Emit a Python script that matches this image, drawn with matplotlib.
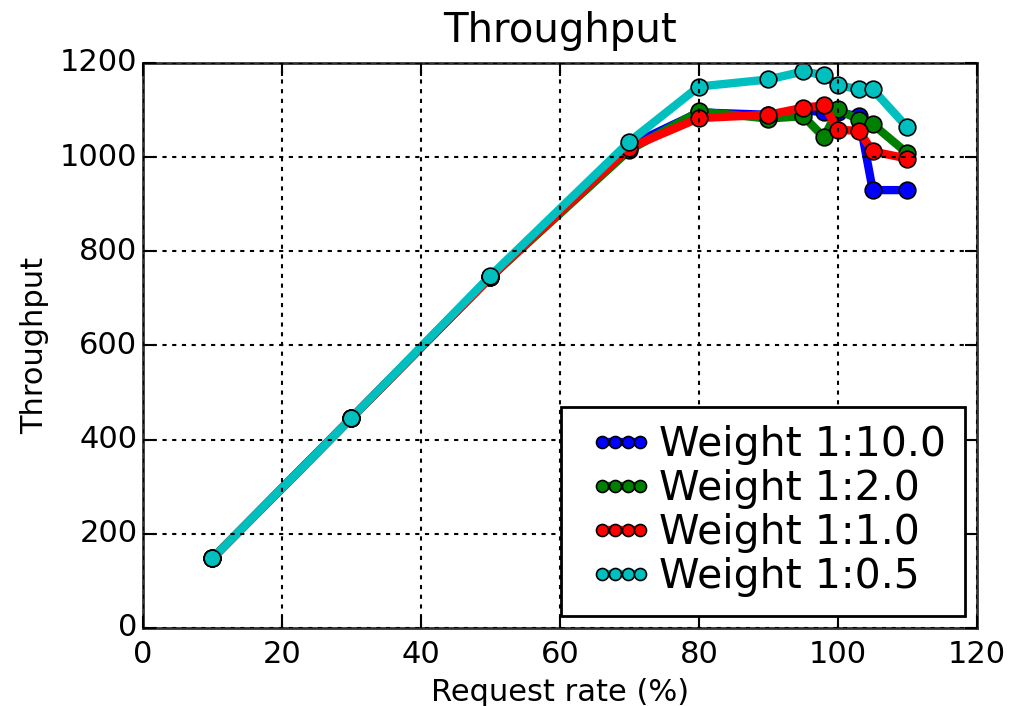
import numpy as np
import matplotlib
matplotlib.use('Agg')
import matplotlib.pyplot as plt
from matplotlib.legend_handler import HandlerLine2D

plt.style.use('classic')

# request rate (%) and throughput per weight
rate = [10, 30, 50, 70, 80, 90, 95, 98, 100, 103, 105, 110]
w10 = [148, 446, 745, 1025, 1095, 1090, 1100, 1095, 1095, 1087, 930, 930]
w2 = [148, 446, 745, 1015, 1097, 1082, 1087, 1042, 1102, 1079, 1070, 1008]
w1 = [148, 446, 745, 1020, 1083, 1090, 1105, 1110, 1058, 1056, 1012, 997]
w05 = [148, 446, 748, 1033, 1150, 1165, 1182, 1174, 1153, 1144, 1144, 1063]

labels = ['Weight 1:10.0', 'Weight 1:2.0', 'Weight 1:1.0', 'Weight 1:0.5']
colors = ['b', 'g', 'r', 'c']

fig = plt.figure(figsize=(10.16, 7.06), dpi=100, facecolor='white')
ax = fig.add_axes([0.1407, 0.1105, 0.8209, 0.8003])

lines = []
for ys, lab, col in zip([w10, w2, w1, w05], labels, colors):
    l, = ax.plot(rate, ys, '-o', color=col, lw=6, ms=12, mec='k', mew=1.2, label=lab)
    lines.append(l)

ax.set_xlim(0, 120)
ax.set_ylim(0, 1200)
ax.grid(True, color='k', linestyle=(0, (3, 4)), lw=1.5)
ax.tick_params(labelsize=22, length=9, width=1.5)
ax.tick_params(axis='x', pad=9)
for sp in ax.spines.values():
    sp.set_linewidth(2)
    sp.set_color('#333333')
ax.set_title('Throughput', fontsize=29, pad=15)
ax.set_xlabel('Request rate (%)', fontsize=22, labelpad=6)
ax.set_ylabel('Throughput', fontsize=22, labelpad=8)

# keep legend markers bunched in the middle of a wider handle
hmap = {l: HandlerLine2D(marker_pad=0.56) for l in lines}
leg = ax.legend(loc='lower right', numpoints=4, fontsize=29.5, markerscale=0.72,
                handlelength=2.06, handletextpad=-0.1, labelspacing=0.1,
                borderpad=0.45, borderaxespad=0.3, handler_map=hmap)
leg.get_frame().set_linewidth(2)

fig.savefig('out.png', dpi=100, facecolor='white')
